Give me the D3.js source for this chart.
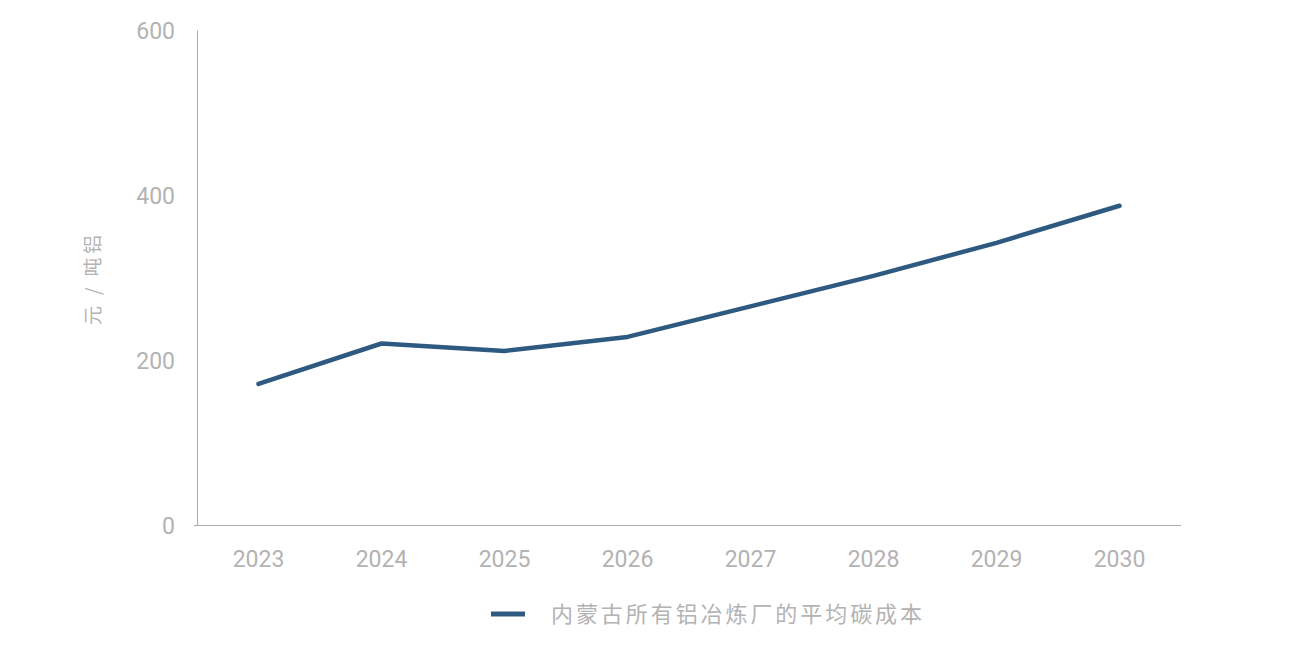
<!DOCTYPE html>
<html lang="zh">
<head>
<meta charset="UTF-8">
<title>内蒙古所有铝冶炼厂的平均碳成本</title>
<script src="https://cdn.jsdelivr.net/npm/d3@7"></script>
<style>
    body { margin: 0; background: #fff; }
    svg { display: block; }
</style>
</head>
<body>
<script>
    // data
    const years = ["2023", "2024", "2025", "2026", "2027", "2028", "2029", "2030"];
    const carbonCost = [171, 220, 211, 228, 265, 302, 342, 387];
    const yTicks = [0, 200, 400, 600];
    const seriesName = "内蒙古所有铝冶炼厂的平均碳成本";
    const unitLabel = "元 / 吨铝";

    const width = 1293;
    const height = 652;
    const margin = { left: 197, right: 112, top: 30, bottom: 127 };
    const gray = "#b3b3b3";
    const axisGray = "#ababab";
    const lineColor = "#2e5a82";
    const numFont = "Roboto, 'DejaVu Sans', sans-serif";
    const cjkFont = "'Noto Sans CJK SC', sans-serif";

    const svg = d3.select("body").append("svg")
        .attr("width", width).attr("height", height);

    const x = d3.scaleBand()
        .domain(years)
        .range([margin.left, width - margin.right]);

    const y = d3.scaleLinear()
        .domain([0, 600])
        .range([height - margin.bottom, margin.top]);

    // x axis
    const xAxis = svg.append("g")
        .attr("transform", `translate(0,${height - margin.bottom})`)
        .call(d3.axisBottom(x).tickSize(0).tickPadding(26));
    xAxis.select(".domain").attr("stroke", axisGray).attr("d", `M${margin.left - 3},0.5H${width - margin.right}`);
    xAxis.selectAll("text")
        .attr("fill", gray)
        .style("font", `23px ${numFont}`);

    // y axis
    const yAxis = svg.append("g")
        .attr("transform", `translate(${margin.left},0)`)
        .call(d3.axisLeft(y).tickValues(yTicks).tickSize(0).tickPadding(22));
    yAxis.select(".domain").attr("stroke", axisGray);
    yAxis.selectAll("text")
        .attr("dy", "0.38em")
        .attr("fill", gray)
        .style("font", `23px ${numFont}`);

    // unit label
    svg.append("text")
        .attr("transform", `translate(100,${y(297)}) rotate(-90)`)
        .attr("text-anchor", "middle")
        .attr("fill", gray)
        .attr("textLength", 90)
        .attr("lengthAdjust", "spacing")
        .style("font", `19px ${cjkFont}`)
        .text(unitLabel);

    // series line
    const line = d3.line()
        .x((d, i) => x(years[i]) + x.bandwidth() / 2)
        .y(d => y(d));

    svg.append("path")
        .datum(carbonCost)
        .attr("fill", "none")
        .attr("stroke", lineColor)
        .attr("stroke-width", 4.5)
        .attr("stroke-linecap", "round")
        .attr("stroke-linejoin", "round")
        .attr("d", line);

    // legend
    const legend = svg.append("g").attr("transform", "translate(491,614)");
    legend.append("line")
        .attr("x1", 0).attr("x2", 34)
        .attr("stroke", lineColor)
        .attr("stroke-width", 5);
    legend.append("text")
        .attr("x", 60).attr("y", 0)
        .attr("dy", "0.36em")
        .attr("fill", gray)
        .attr("textLength", 371)
        .attr("lengthAdjust", "spacing")
        .style("font", `22px ${cjkFont}`)
        .text(seriesName);
</script>
</body>
</html>
